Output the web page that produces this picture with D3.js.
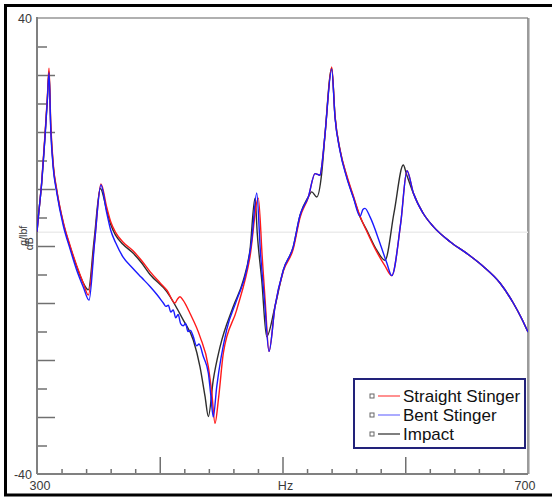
<!DOCTYPE html>
<html>
<head>
<meta charset="utf-8">
<script src="https://cdn.jsdelivr.net/npm/d3@7"></script>
<style>
  html, body { margin: 0; padding: 0; background: #fff; }
  svg { display: block; font-family: Arial, "Liberation Sans", sans-serif; }
</style>
</head>
<body>
<svg id="chart" width="552" height="497"></svg>
<script>
// ---------- data ----------
const xDomain = [300, 700];
const yDomain = [-40, 40];
const xTickLabels = ["300", "Hz", "700"];
const yTickLabels = ["40", "-40"];
const yAxisTitle = ["g/lbf", "dB"];
const seriesNames = ["Straight Stinger", "Bent Stinger", "Impact"];
const refLineDb = 2.4;

const impactHz = [300, 301.1, 303.8, 306.5, 308.4, 309.8, 311.2, 313.3, 316, 321.4, 326.9, 332.3, 337.7, 341.8, 346.5, 351.6, 356.8, 360, 364, 370, 378, 385, 392.1, 405.7, 419.2, 427.3, 432.8, 436.9, 439.6, 443.6, 449.1, 459.9, 468.1, 473.5, 477.6, 479.5, 483.1, 487.1, 493.9, 500.7, 508.8, 514.3, 521, 523.8, 527.9, 531.9, 534.6, 540.1, 542.8, 546.9, 552.3, 557.7, 563.2, 568.6, 576.7, 583.5, 590.9, 598.4, 601, 606.6, 614.7, 622.9, 636.5, 650.1, 663.6, 677.2, 688, 695, 700];
const impactDb = [2.5, 5.1, 11.0, 19.2, 25.6, 30.6, 20.9, 13.9, 9.8, 4.0, -0.1, -3.6, -6.5, -7.7, 1.0, 10.1, 6.3, 3.8, 1.9, 0.3, -1.2, -2.9, -5.0, -8.0, -13.0, -16.5, -21.2, -26.4, -29.9, -23.5, -17.7, -10.6, -6.0, -0.7, 8.4, 2.0, -6.0, -15.9, -10.6, -4.2, -0.1, 5.4, 8.6, 9.5, 8.6, 12.7, 19.5, 31.2, 22.7, 16.8, 12.2, 8.6, 5.1, 2.8, -0.7, -2.5, 5.9, 14.2, 12.6, 9.25, 5.7, 3.4, 0.75, -1.3, -3.6, -6.5, -10.0, -12.8, -15.1];

const straightHz = [300, 301.1, 303.8, 306.5, 308.4, 309.8, 311.2, 313.3, 316, 321.4, 326.9, 332.3, 337.7, 341.8, 347, 352.1, 356.8, 360, 364, 370, 378, 385, 392.1, 400, 406, 412.4, 414.5, 416.5, 419, 424.6, 432.8, 439.6, 442.5, 445, 448, 451.8, 462.7, 473.5, 480.3, 483.5, 486, 489, 493.9, 500.7, 508.8, 514.3, 521, 526.5, 530.6, 531.9, 534.6, 540.1, 542.8, 546.9, 552.3, 557.7, 563.2, 568.6, 576.7, 583.5, 589, 596.3, 601.4, 606.6, 614.7, 622.9, 636.5, 650.1, 663.6, 677.2, 688, 695, 700];
const straightDb = [2.5, 5.1, 11.2, 19.5, 26.0, 31.2, 21.5, 14.2, 10.0, 4.2, 0.1, -3.4, -6.5, -8.6, 1.0, 10.9, 6.8, 4.3, 2.4, 0.7, -0.8, -2.5, -4.5, -6.4, -7.8, -10.0, -9.3, -8.9, -9.5, -11.8, -15.9, -21.2, -26.0, -31.1, -26.5, -18.8, -11.2, -1.9, 8.4, -2.0, -10.0, -18.5, -10.6, -4.4, -0.5, 5.0, 8.5, 12.7, 12.4, 13.9, 19.5, 31.4, 22.7, 16.8, 12.4, 8.8, 5.2, 2.6, -1.0, -3.5, -5.2, 4.0, 13.2, 9.3, 5.7, 3.4, 0.75, -1.3, -3.6, -6.5, -10.0, -12.8, -15.1];

const bentHz = [300, 301.1, 303.8, 306.5, 308.4, 309.8, 311.2, 313.3, 316, 321.4, 326.9, 332.3, 337.7, 342.4, 347, 352.1, 356.8, 360, 364, 370, 378, 385, 392.1, 398, 402.9, 405, 407, 409, 411, 413, 415, 417, 419.2, 421, 423, 425, 427.3, 430, 432, 435.5, 439.6, 441.5, 443.6, 446.4, 454.5, 462.7, 470.8, 474.9, 479, 482, 485.5, 489, 493.9, 500.7, 508.8, 514.3, 521, 526.5, 530.6, 531.9, 534.6, 540.1, 542.8, 546.9, 552.3, 557.7, 563.2, 565.5, 567.2, 571.3, 579.4, 585, 589, 596.3, 601.4, 606.6, 614.7, 622.9, 636.5, 650.1, 663.6, 677.2, 688, 695, 700];
const bentDb = [2.5, 5.1, 11.0, 19.0, 25.5, 30.4, 20.5, 13.5, 9.5, 3.6, -0.5, -4.2, -7.2, -9.5, 0.8, 10.7, 5.8, 2.8, 0.6, -1.9, -3.9, -5.5, -7.1, -8.6, -10.0, -10.6, -10.4, -11.6, -11.2, -12.6, -12.0, -13.6, -14.0, -13.6, -15.0, -14.8, -15.9, -17.5, -17.2, -19.4, -22.3, -26.0, -30.0, -24.7, -14.7, -9.5, -4.2, 1.0, 9.3, -1.0, -10.0, -18.5, -10.6, -4.2, -0.1, 5.4, 8.6, 12.7, 12.4, 13.9, 19.5, 31.0, 22.5, 16.6, 12.0, 8.5, 5.2, 6.4, 6.6, 5.1, 0.5, -3.0, -5.2, 4.0, 13.2, 9.3, 5.7, 3.4, 0.75, -1.3, -3.6, -6.5, -10.0, -12.8, -15.1];

// ---------- drawing ----------
const svg = d3.select("#chart");
const x = d3.scaleLinear().domain(xDomain).range([37, 528]);
const y = d3.scaleLinear().domain(yDomain).range([474, 18]);

// outer black frame (left, top, bottom)
svg.append("path")
  .attr("d", "M 600 5.5 L 5.5 5.5 L 5.5 495 L 600 495")
  .attr("fill", "none").attr("stroke", "#000").attr("stroke-width", 3);

// plot top & right border
svg.append("line").attr("x1", x(300)).attr("x2", x(700)).attr("y1", y(40)).attr("y2", y(40))
  .attr("stroke", "#b0b0b0").attr("stroke-width", 2);
svg.append("line").attr("x1", x(700)).attr("x2", x(700)).attr("y1", y(40)).attr("y2", y(-40))
  .attr("stroke", "#7a7a7a").attr("stroke-width", 1.5);
svg.append("line").attr("x1", x(700) + 1.5).attr("x2", x(700) + 1.5).attr("y1", y(40)).attr("y2", y(-40))
  .attr("stroke", "#c8c8c8").attr("stroke-width", 1);

// reference line
svg.append("line").attr("x1", x(300)).attr("x2", x(700)).attr("y1", y(refLineDb)).attr("y2", y(refLineDb))
  .attr("stroke", "#ececec").attr("stroke-width", 1.5);

// y axis ticks (inward)
const yMajor = d3.range(-30, 31, 10);
const yMinor = d3.range(-35, 36, 10);
const yAxisMajor = d3.axisRight(y).tickValues(yMajor).tickSize(18).tickFormat("");
const yAxisMinor = d3.axisRight(y).tickValues(yMinor).tickSize(10).tickFormat("");
[yAxisMajor, yAxisMinor].forEach(ax => {
  const g = svg.append("g").attr("transform", `translate(${x(300)},0)`).call(ax);
  g.select(".domain").remove();
  g.selectAll("line").attr("stroke", "#707070").attr("stroke-width", 1.5);
});

// x axis ticks (inward)
const xMajor = [400, 500, 600];
const xMinor = d3.range(320, 700, 20).filter(v => v % 100 !== 0);
const xAxisMajor = d3.axisTop(x).tickValues(xMajor).tickSize(17).tickFormat("");
const xAxisMinor = d3.axisTop(x).tickValues(xMinor).tickSize(5).tickFormat("");
[xAxisMajor, xAxisMinor].forEach(ax => {
  const g = svg.append("g").attr("transform", `translate(0,${y(-40)})`).call(ax);
  g.select(".domain").remove();
  g.selectAll("line").attr("stroke", "#707070").attr("stroke-width", 1.5);
});

// axis lines
svg.append("line").attr("x1", x(300)).attr("x2", x(300)).attr("y1", y(40) - 1).attr("y2", y(-40))
  .attr("stroke", "#808080").attr("stroke-width", 2);
svg.append("line").attr("x1", x(300)).attr("x2", x(700)).attr("y1", y(-40)).attr("y2", y(-40))
  .attr("stroke", "#808080").attr("stroke-width", 2);

// tick labels
const labelColor = "#3a3a3a";
svg.append("text").attr("x", x(300) - 5).attr("y", y(40) + 4.5).attr("text-anchor", "end")
  .attr("font-size", 12.5).attr("fill", labelColor).text(yTickLabels[0]);
svg.append("text").attr("x", x(300) - 5).attr("y", y(-40) + 4.5).attr("text-anchor", "end")
  .attr("font-size", 12.5).attr("fill", labelColor).text(yTickLabels[1]);
svg.append("text").attr("x", x(300) + 3).attr("y", y(-40) + 15.5).attr("text-anchor", "middle")
  .attr("font-size", 12.5).attr("fill", labelColor).text(xTickLabels[0]);
svg.append("text").attr("x", x(500) + 3).attr("y", y(-40) + 15.5).attr("text-anchor", "middle")
  .attr("font-size", 12.5).attr("fill", labelColor).text(xTickLabels[1]);
svg.append("text").attr("x", x(700) - 3).attr("y", y(-40) + 15.5).attr("text-anchor", "middle")
  .attr("font-size", 12.5).attr("fill", labelColor).text(xTickLabels[2]);

// y axis title (rotated, two lines)
svg.append("text").attr("transform", `translate(27,${y(1.8)}) rotate(-90)`)
  .attr("text-anchor", "middle").attr("font-size", 10.5).attr("fill", labelColor).text(yAxisTitle[0]);
svg.append("text").attr("transform", `translate(33,${y(0.4)}) rotate(-90)`)
  .attr("text-anchor", "middle").attr("font-size", 10.5).attr("fill", labelColor).text(yAxisTitle[1]);

// clip
svg.append("defs").append("clipPath").attr("id", "plotClip")
  .append("rect").attr("x", x(300)).attr("y", y(40)).attr("width", x(700) - x(300)).attr("height", y(-40) - y(40));

const line = d3.line().x(d => x(d[0])).y(d => y(d[1])).curve(d3.curveMonotoneX);
const series = [
  { name: seriesNames[2], hz: impactHz, db: impactDb, color: "#2e2e2e", legend: "#555555" },
  { name: seriesNames[0], hz: straightHz, db: straightDb, color: "#ff1a1a", legend: "#ff6b6b" },
  { name: seriesNames[1], hz: bentHz, db: bentDb, color: "#1a1aff", legend: "#8f8fff" }
];
const plot = svg.append("g").attr("clip-path", "url(#plotClip)");
series.forEach(s => {
  plot.append("path")
    .datum(s.hz.map((h, i) => [h, s.db[i]]))
    .attr("d", line)
    .attr("fill", "none")
    .attr("stroke", s.color)
    .attr("stroke-width", 1.4)
    .attr("stroke-linejoin", "round");
});

// legend
const lg = svg.append("g");
lg.append("rect").attr("x", 354).attr("y", 379).attr("width", 171).attr("height", 69)
  .attr("fill", "#fff").attr("stroke", "#22227a").attr("stroke-width", 2);
const legendOrder = [series[1], series[2], series[0]];
legendOrder.forEach((s, i) => {
  const cy = 396 + i * 19;
  lg.append("rect").attr("x", 370).attr("y", cy - 2).attr("width", 4).attr("height", 4)
    .attr("fill", "#fff").attr("stroke", "#666").attr("stroke-width", 1);
  lg.append("line").attr("x1", 378).attr("x2", 400).attr("y1", cy).attr("y2", cy)
    .attr("stroke", s.legend).attr("stroke-width", 1.5);
  lg.append("text").attr("x", 403).attr("y", cy + 6).attr("font-size", 17).attr("fill", "#111").text(s.name);
});
</script>
</body>
</html>
